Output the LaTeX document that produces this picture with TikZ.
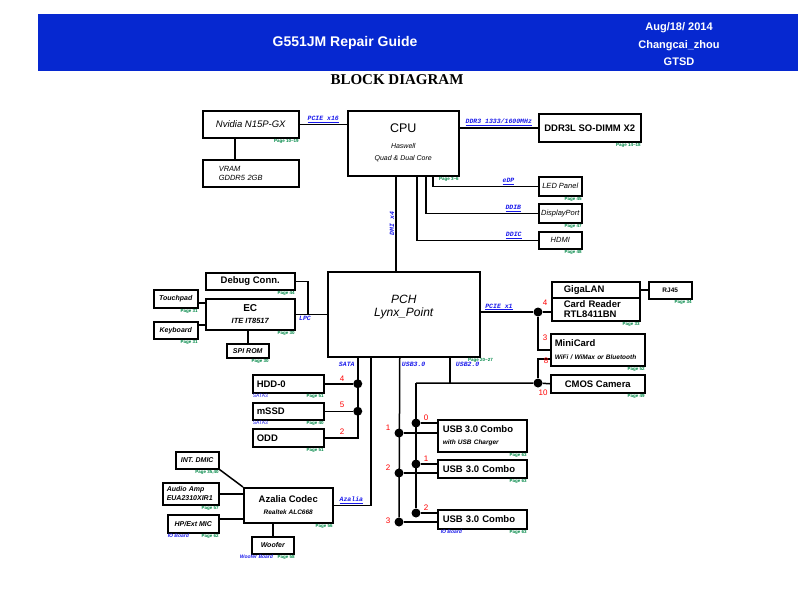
\documentclass[tikz,border=0pt]{standalone}
\usepackage{fontspec}
\setmainfont{Liberation Sans}
\newfontfamily\serifbd{Liberation Serif}
\newfontfamily\monobd{Liberation Mono}
\usetikzlibrary{calc}
\definecolor{hdrblue}{RGB}{6,40,208}
\definecolor{pagegreen}{RGB}{0,135,70}
\definecolor{busblue}{RGB}{25,25,235}

\begin{document}
\begin{tikzpicture}[x=1pt,y=-1pt]
        \tikzset{box/.style 2 args={draw, line width=1.5pt, minimum width=#1, minimum height=#2, inner sep=0pt, anchor=north west, align=center},
            wire/.style={line width=1.5pt},
            dot/.style={circle, fill, inner sep=0pt, minimum size=9pt},
            pg/.style={text=pagegreen, font=\fontsize{4.5}{5}\selectfont\bfseries, inner sep=0.6pt},
            pgno/.style={label={[pg, anchor=north east]south east:Page #1}},
            bus/.style={text=busblue, font=\monobd\fontsize{6.5}{7}\selectfont\bfseries\itshape, inner sep=1pt},
            note/.style={text=busblue, font=\fontsize{5}{6}\selectfont\bfseries\itshape, inner sep=0.6pt},
            pin/.style={text=red, font=\fontsize{8}{9}\selectfont, inner sep=0pt},
            big/.style={font=\fontsize{9.5}{11}\selectfont\bfseries},
            ital/.style={font=\fontsize{7.5}{9}\selectfont\itshape},
            smit/.style={font=\fontsize{7}{8}\selectfont\bfseries\itshape}}
        \useasboundingbox (0,0) rectangle (800,600);
        \node[fill=hdrblue, minimum width=760, minimum height=57, inner sep=0pt, anchor=north west] (hdr) at (38,14) {};
        \node[text=white, font=\fontsize{14}{16}\selectfont\bfseries] (title) at (345,43) {G551JM Repair Guide};
        \node[text=white, font=\fontsize{11}{17.5}\selectfont\bfseries, align=center] (info) at (679,44.5) {Aug/18/ 2014\\Changcai\_zhou\\GTSD};
        \node[font=\serifbd\fontsize{15}{17}\selectfont\bfseries] (bd) at (397,80) {BLOCK DIAGRAM};

        \node[box={96}{27}, font=\fontsize{9.5}{11}\selectfont\itshape, pgno={10\textasciitilde 19}] (nv) at (202,110) {Nvidia N15P-GX};
        \node[box={96}{27}, text width=64pt, align=left, font=\fontsize{7.5}{8.5}\selectfont\itshape] (vram) at (202,159) {VRAM\\GDDR5 2GB};
        \node[box={111}{65}, font=\fontsize{7}{12}\selectfont\itshape, pgno={3\textasciitilde 6}] (cpu) at (347,110) {{\upshape\fontsize{12.5}{14}\selectfont CPU}\\[4pt]Haswell\\Quad \& Dual Core};
        \node[box={102}{28}, big, pgno={14\textasciitilde 18}] (ddr) at (538,113) {DDR3L SO-DIMM X2};
        \node[box={43}{19}, ital, pgno=45] (led) at (538,176) {LED Panel};
        \node[box={43}{19}, ital, pgno=47] (dp) at (538,203) {DisplayPort};
        \node[box={43}{17}, ital, pgno=48] (hdmi) at (538,231) {HDMI};
        \node[box={152}{85}, label={[pg, anchor=north]south east:Page 20\textasciitilde 27}] (pch) at (327,271) {};
        \node[font=\fontsize{12}{13.5}\selectfont\itshape, align=center] (pchtxt) at ([yshift=7pt]pch.center) {PCH\\Lynx\_Point};
        \node[box={89}{17}, big, pgno=44] (dbg) at (205,272) {Debug Conn.};
        \node[box={89}{31}, font=\fontsize{7.5}{12}\selectfont\bfseries\itshape, pgno=30] (ec) at (205,298) {{\upshape\fontsize{10}{12}\selectfont EC}\\ITE IT8517};
        \node[box={44}{18}, smit, pgno=31] (tp) at (153,289) {Touchpad};
        \node[box={44}{17}, smit, pgno=31] (kb) at (153,321) {Keyboard};
        \node[box={42}{14}, smit, pgno=30] (spi) at (226,343) {SPI ROM};
        \node[box={88}{16}, big, text width=64pt, align=left] (lan) at (551,281) {GigaLAN};
        \node[box={88}{23}, font=\fontsize{9.5}{10.5}\selectfont\bfseries, text width=64pt, align=left, pgno=33] (cr) at (551,297) {Card Reader\\RTL8411BN};
        \node[box={43}{17}, font=\fontsize{6.5}{7}\selectfont\bfseries, pgno=34] (rj) at (648,281) {RJ45};
        \node[box={94}{32}, font=\fontsize{6.5}{13}\selectfont\bfseries\itshape, text width=86pt, align=left, pgno=52] (mini) at (550,333) {{\upshape\fontsize{9.5}{11}\selectfont MiniCard}\\WiFi / WiMax or Bluetooth};
        \node[box={94}{18}, big, pgno=49] (cmos) at (550,374) {CMOS Camera};
        \node[box={71}{18}, big, text width=63pt, align=left, pgno=51] (hdd) at (252,374) {HDD-0};
        \node[box={71}{17}, big, text width=63pt, align=left, pgno=40] (mssd) at (252,402) {mSSD};
        \node[box={71}{18}, big, text width=63pt, align=left, pgno=51] (odd) at (252,428) {ODD};
        \node[box={89}{32}, font=\fontsize{6.5}{12}\selectfont\bfseries\itshape, text width=79pt, align=left, pgno=63] (usb1) at (437,419) {{\upshape\fontsize{9.5}{11}\selectfont USB 3.0 Combo}\\with USB Charger};
        \node[box={89}{18}, big, text width=79pt, align=left, pgno=63] (usb2) at (437,459) {USB 3.0 Combo};
        \node[box={89}{19}, big, text width=79pt, align=left, pgno=63] (usb3) at (437,509) {USB 3.0 Combo};
        \node[box={43}{17}, smit, pgno={35,40}] (dmic) at (175,451) {INT. DMIC};
        \node[box={56}{22}, font=\fontsize{7}{9}\selectfont\bfseries\itshape, text width=48pt, align=left, pgno=57] (amp) at (162,482) {Audio Amp\\EUA2310XIR1};
        \node[box={51}{18}, smit, pgno=62] (hp) at (167,514) {HP/Ext MIC};
        \node[box={89}{35}, font=\fontsize{6.5}{12}\selectfont\bfseries\itshape, pgno=56] (az) at (243,487) {{\upshape\fontsize{9.5}{11}\selectfont Azalia Codec}\\Realtek ALC668};
        \node[box={42}{17}, smit] (woof) at (251,536) {Woofer};
        \node[pg, anchor=north west] (woofpg) at ([xshift=4pt]woof.south) {Page 58};
        \node[note, anchor=north east] (woofbd) at ([xshift=1pt]woof.south) {Woofer Board};
        \node[note, anchor=north west, font=\fontsize{5}{6}\selectfont] (sataa) at (hdd.south west) {SATA3};
        \node[note, anchor=north west, font=\fontsize{5}{6}\selectfont] (satab) at (mssd.south west) {SATA3};
        \node[note, anchor=north west] (iobda) at (hp.south west) {IO Board};
        \node[note, anchor=north west] (iobdb) at ([xshift=3pt]usb3.south west) {IO Board};

        \coordinate (dmiT) at ([xshift=-7.5pt]cpu.south);
        \coordinate (sataT) at ([xshift=-46pt]pch.south);
        \coordinate (azT) at ([xshift=-33pt]pch.south);
        \coordinate (u3T) at ([xshift=-4pt]pch.south);
        \coordinate (u2T) at ([xshift=46pt]pch.south);
        \coordinate (hub) at (416,383);
        \coordinate (lpcj) at ($(ec.east)!0.4!(ec.east -| pch.west)$);
        \coordinate (tpo) at ([yshift=-4pt]tp.east);
        \coordinate (kbo) at ([yshift=5.5pt]kb.east);
        \coordinate (hpo) at ([yshift=5pt]hp.east);

        \draw[wire] (nv.east) -- (nv.east -| cpu.west) node[bus, above, midway] {\underline{PCIE x16}};
        \draw[wire] ([xshift=-16pt]nv.south) -- ([xshift=-16pt]vram.north);
        \draw[wire] (ddr.west -| cpu.east) -- (ddr.west) node[bus, above, midway] {\underline{DDR3 1333/1600MHz}};
        \draw[wire] ([xshift=29.5pt]cpu.south) |- (led.west) node[bus, above, pos=0.86] {\underline{eDP}};
        \draw[wire] ([xshift=22.5pt]cpu.south) |- (dp.west) node[bus, above, pos=0.89] {\underline{DDIB}};
        \draw[wire] ([xshift=13.5pt]cpu.south) |- (hdmi.west) node[bus, above, pos=0.9] {\underline{DDIC}};
        \draw[wire] (dmiT) -- (dmiT |- pch.north) node[bus, midway, rotate=90, above] {DMI x4};
        \draw[wire] (ec.east) -- (ec.east -| pch.west) node[bus, below, pos=0.3] {LPC};
        \draw[wire] (dbg.east) -| (lpcj);
        \draw[wire] (tpo) -- (tpo -| ec.west);
        \draw[wire] (kbo) -- (kbo -| ec.west);
        \draw[wire] (spi.north) -- (spi.north |- ec.south);
        \draw[wire] (lan.east) -- (lan.east -| rj.west);

        \node[dot] (dc) at (538,312) {};
        \node[dot] (dm) at (538,383) {};
        \node[dot] (s1) at (sataT |- hdd.east) {};
        \node[dot] (s2) at (sataT |- mssd.east) {};
        \foreach \n/\y in {1/433, 2/473, 3/522} \node[dot] (a\n) at (399,\y) {};
        \foreach \n/\y in {0/423, 1/464, 2/513} \node[dot] (b\n) at (416,\y) {};

        \draw[wire] (dc -| pch.east) -- (dc) node[bus, above, pos=0.35] {\underline{PCIE x1}} -- (dc -| cr.west);
        \draw[wire] (dc) |- (mini.west);
        \draw[wire] (u2T) -- (u2T |- hub);
        \draw[wire] (hub) -- (dm) -- (cmos.west);
        \draw[wire] (dm) |- ([yshift=-9pt]mini.west);
        \draw[wire] (hub) -- (b2);
        \draw[wire] (u3T) -- (a3);
        \draw[wire] (sataT) |- (odd.east);
        \draw[wire] (hdd.east) -- (s1);
        \draw[wire] (mssd.east) -- (s2);
        \foreach \d/\u in {a1/usb1, a2/usb2, a3/usb3, b0/usb1, b1/usb2, b2/usb3} \draw[wire] (\d) -- (\d -| \u.west);
        \draw[wire] (azT) |- (az.east) node[bus, above, pos=0.76] {\underline{Azalia}};
        \draw[wire] (dmic.south east) -- (az.north west);
        \draw[wire] (amp.east) -- (amp.east -| az.west);
        \draw[wire] (hpo) -- (hpo -| az.west);
        \draw[wire] (woof.north) -- (woof.north |- az.south);

        \node[bus, anchor=north east] (satal) at ([xshift=-2pt,yshift=-3pt]sataT) {SATA};
        \node[bus, anchor=north west] (usb3l) at ([xshift=1pt,yshift=-3pt]u3T) {USB3.0};
        \node[bus, anchor=north west] (usb2l) at ([xshift=5pt,yshift=-3pt]u2T) {USB2.0};
        \foreach \t/\x/\y in {4/545/303, 3/545/338, 8/546/361, 10/543/393, 4/342/379, 5/342/405, 2/342/432, 1/388/428, 2/388/468, 3/388/521, 0/426/418, 1/426/459, 2/426/508}
            \node[pin] (pin-\x-\y) at (\x,\y) {\t};
\end{tikzpicture}
\end{document}
